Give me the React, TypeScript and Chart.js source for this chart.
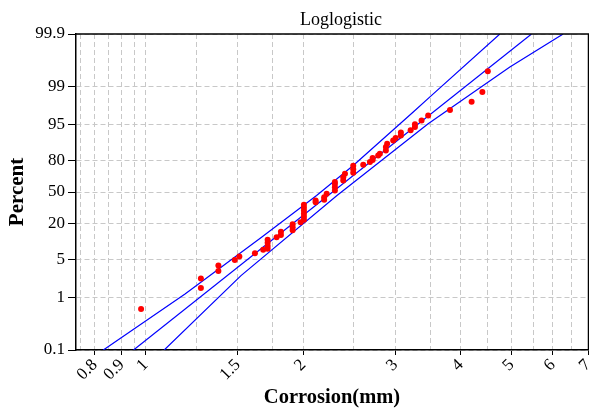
import { useEffect, useRef } from "react";
import { Chart, registerables } from "chart.js";

Chart.register(...registerables);

// ---- data ----
const corrosionMm = [
  0.98, 1.275, 1.275, 1.377, 1.377, 1.48, 1.51, 1.617, 1.677,
  1.71, 1.71, 1.71, 1.71, 1.779, 1.813, 1.813,
  1.909, 1.909, 1.909, 1.977,
  2.006, 2.006, 2.006, 2.006, 2.006, 2.006,
  2.112, 2.112, 2.193, 2.193, 2.217,
  2.299, 2.299, 2.299, 2.299,
  2.385, 2.385, 2.403,
  2.492, 2.492, 2.492, 2.604, 2.682, 2.714, 2.714,
  2.781, 2.802, 2.877, 2.877, 2.893, 2.971, 3.003,
  3.073, 3.073, 3.208, 3.269, 3.269, 3.366, 3.465,
  3.814, 4.195, 4.398, 4.505,
];
const percentRank = [
  0.6, 1.49, 2.24, 3.08, 3.85, 4.89, 5.61, 6.45, 7.38,
  7.7, 8.66, 9.77, 10.99, 12.2, 13.3, 14.9,
  15.8, 17.6, 19.6, 21.1,
  22.9, 25.3, 27.8, 30.5, 33.4, 36.4,
  39.1, 40.8, 41.5, 44.4, 48.0,
  51.6, 55.1, 58.6, 60.7,
  62.3, 65.7, 68.9,
  69.8, 73.0, 75.9, 76.7, 78.7, 80.2, 81.5,
  83.2, 84.2, 86.0, 87.7, 89.2, 90.5, 91.4,
  92.2, 93.1, 93.7, 94.5, 95.1, 95.8, 96.6,
  97.3, 98.1, 98.75, 99.49,
];

const fitCorrosion = [0.948, 5.46];
const fitPercent = [0.1, 99.9];

const upperCorrosion = [0.83, 1.189, 1.665, 2.121, 2.492, 3.245, 3.518, 4.75];
const upperPercent = [0.1, 1.15, 12.2, 46.2, 76.1, 97.06, 98.56, 99.9];

const lowerCorrosion = [1.085, 1.521, 2.32, 3.465, 4.964, 6.275];
const lowerPercent = [0.1, 2.52, 46.2, 95.2, 99.58, 99.9];

const xGridValues = [0.75, 0.8, 0.85, 0.9, 0.95, 1, 1.25, 1.5, 1.75, 2, 2.5, 3, 3.5, 4, 4.5, 5, 5.5, 6, 6.5, 7];
const xLabelValues = [0.8, 0.9, 1, 1.5, 2, 3, 4, 5, 6, 7];
const yTickPercents = [0.1, 1, 5, 20, 50, 80, 95, 99, 99.9];

const X_MIN = 0.736;
const X_MAX = 7.0;

const FONT = "'Liberation Serif', 'Times New Roman', serif";

const logit = (pct: number) => {
  const p = pct / 100;
  return Math.log(p / (1 - p));
};
const toPoints = (xs: number[], ps: number[]) =>
  xs.map((x, i) => ({ x: Math.log10(x), y: logit(ps[i]) }));

const isLabeled = (logValue: number) =>
  xLabelValues.find((l) => Math.abs(Math.log10(l) - logValue) < 1e-6);

const titlePlugin = {
  id: "plotTitle",
  afterDraw(chart: any) {
    const { ctx, chartArea } = chart;
    ctx.save();
    ctx.font = `18px ${FONT}`;
    ctx.fillStyle = "#000";
    ctx.textAlign = "center";
    ctx.textBaseline = "alphabetic";
    ctx.fillText("Loglogistic", (chartArea.left + chartArea.right) / 2 + 9, chartArea.top - 9);
    // top and right frame lines
    ctx.strokeStyle = "#000";
    ctx.lineWidth = 1.5;
    ctx.beginPath();
    const t = Math.round(chartArea.top);
    const r = Math.round(chartArea.right) + 0.5;
    ctx.moveTo(chartArea.left, t);
    ctx.lineTo(r, t);
    ctx.lineTo(r, chartArea.bottom);
    ctx.stroke();
    ctx.restore();
  },
};

const lineDataset = (label: string, xs: number[], ps: number[]) => ({
  label,
  data: toPoints(xs, ps),
  showLine: true,
  borderColor: "#0000ff",
  backgroundColor: "#0000ff",
  borderWidth: 1.2,
  pointRadius: 0,
  fill: false,
});

export default function App() {
  const ref = useRef<HTMLCanvasElement>(null);

  useEffect(() => {
    if (!ref.current) return;
    const chart = new Chart(ref.current, {
      type: "scatter",
      data: {
        datasets: [
          {
            label: "Data",
            data: toPoints(corrosionMm, percentRank),
            backgroundColor: "#ff0000",
            borderColor: "#ff0000",
            borderWidth: 0,
            pointRadius: 3,
          },
          lineDataset("Fit", fitCorrosion, fitPercent),
          lineDataset("Upper", upperCorrosion, upperPercent),
          lineDataset("Lower", lowerCorrosion, lowerPercent),
        ],
      },
      options: {
        responsive: false,
        animation: false,
        devicePixelRatio: 1,
        layout: { autoPadding: false, padding: { top: 34, right: 1, left: 0, bottom: 0 } },
        plugins: {
          legend: { display: false },
          tooltip: { enabled: false },
          title: { display: false },
        },
        scales: {
          x: {
            type: "linear",
            min: Math.log10(X_MIN),
            max: Math.log10(X_MAX),
            afterBuildTicks: (s: any) => {
              s.ticks = xGridValues.map((v) => ({ value: Math.log10(v) }));
            },
            afterFit: (s: any) => {
              s.height = 62;
              s.paddingLeft = 0;
              s.paddingRight = 0;
            },
            ticks: {
              autoSkip: false,
              minRotation: 45,
              maxRotation: 45,
              padding: 0,
              color: "#000",
              font: { family: FONT, size: 17 },
              callback: (value: any) => {
                const m = isLabeled(Number(value));
                return m !== undefined ? String(m) : "";
              },
            },
            grid: {
              color: "#c8c8c8",
              lineWidth: 1,
              tickLength: 5,
              tickColor: (ctx: any) =>
                ctx.tick && isLabeled(ctx.tick.value) !== undefined ? "#000" : "rgba(0,0,0,0)",
            },
            border: { display: true, color: "#000", width: 1.5, dash: [5, 3] },
            title: {
              display: true,
              text: "Corrosion(mm)",
              color: "#000",
              font: { family: FONT, size: 20.5, weight: "bold" },
              padding: { top: 0, bottom: 2 },
            },
          },
          y: {
            type: "linear",
            min: logit(0.1),
            max: logit(99.9),
            afterBuildTicks: (s: any) => {
              s.ticks = yTickPercents.map((p) => ({ value: logit(p) }));
            },
            afterFit: (s: any) => {
              s.width = 76;
              s.paddingTop = 0;
              s.paddingBottom = 0;
            },
            ticks: {
              padding: 3,
              color: "#000",
              font: { family: FONT, size: 17 },
              callback: (_v: any, index: number) => String(yTickPercents[index]),
            },
            grid: {
              color: "#c8c8c8",
              lineWidth: 1,
              tickLength: 8,
              tickColor: "#000",
            },
            border: { display: true, color: "#000", width: 1.5, dash: [5, 3] },
            title: {
              display: true,
              text: "Percent",
              color: "#000",
              font: { family: FONT, size: 21, weight: "bold" },
              padding: { top: 5, bottom: 0 },
            },
          },
        },
      },
      plugins: [titlePlugin],
    } as any);
    return () => chart.destroy();
  }, []);

  return (
    <div style={{ position: "fixed", left: 0, top: 0, width: 589, height: 412, background: "#fff", overflow: "hidden" }}>
      <canvas ref={ref} width={589} height={412} style={{ display: "block" }} />
    </div>
  );
}
